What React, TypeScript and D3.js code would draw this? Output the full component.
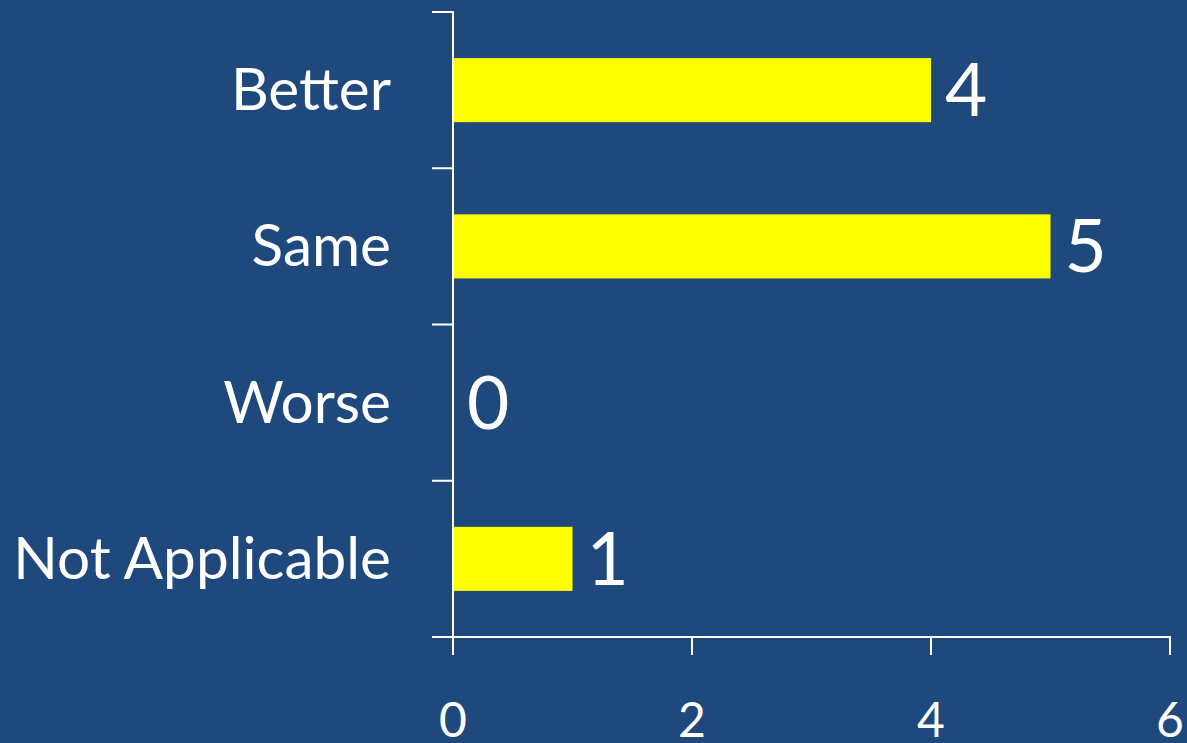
import React from "react";
import * as d3 from "d3";

const categories = ["Better", "Same", "Worse", "Not Applicable"];
const values = [4, 5, 0, 1];
const xTicks = [0, 2, 4, 6];

const W = 1187;
const H = 743;
const BG = "#1F497D";
const FONT = "Lato, 'Open Sans', sans-serif";

export default function App() {
  const x = d3.scaleLinear().domain([0, 6]).range([453, 1170]);
  const y = d3
    .scaleBand<string>()
    .domain(categories)
    .range([12, 637])
    .paddingInner(0.59)
    .paddingOuter(0.295);
  const step = y.step();
  const boundaries = categories.map((c) => (y(c) as number) - step * 0.295);
  boundaries.push(637);

  return (
    <svg
      width={W}
      height={H}
      style={{ position: "absolute", left: 0, top: 0, display: "block" }}
    >
      <rect x={0} y={0} width={W} height={H} fill={BG} />
      {categories.map((c, i) => (
        <rect
          key={c}
          x={x(0)}
          y={y(c) as number}
          width={x(values[i]) - x(0)}
          height={y.bandwidth()}
          fill="#FFFF00"
        />
      ))}
      {/* y axis */}
      <line x1={453} x2={453} y1={11} y2={638} stroke="#FFFFFF" strokeWidth={2} />
      {boundaries.map((b, i) => (
        <line key={i} x1={432} x2={453} y1={b} y2={b} stroke="#FFFFFF" strokeWidth={2} />
      ))}
      {/* x axis */}
      <line x1={432} x2={1171} y1={637} y2={637} stroke="#FFFFFF" strokeWidth={2} />
      {xTicks.map((t) => (
        <g key={t}>
          <line x1={x(t)} x2={x(t)} y1={637} y2={655} stroke="#FFFFFF" strokeWidth={2} />
          <text
            x={x(t)}
            y={737}
            textAnchor="middle"
            fill="#FFFFFF"
            fontFamily={FONT}
            fontSize={48}
          >
            {t}
          </text>
        </g>
      ))}
      {categories.map((c, i) => {
        const cy = (y(c) as number) + y.bandwidth() / 2;
        return (
          <g key={c}>
            <text
              x={391}
              y={cy + 20}
              textAnchor="end"
              fill="#FFFFFF"
              fontFamily={FONT}
              fontSize={58.5}
            >
              {c}
            </text>
            <text
              x={x(values[i]) + 14}
              y={cy + 26}
              fill="#FFFFFF"
              fontFamily={FONT}
              fontSize={73}
            >
              {values[i]}
            </text>
          </g>
        );
      })}
    </svg>
  );
}
